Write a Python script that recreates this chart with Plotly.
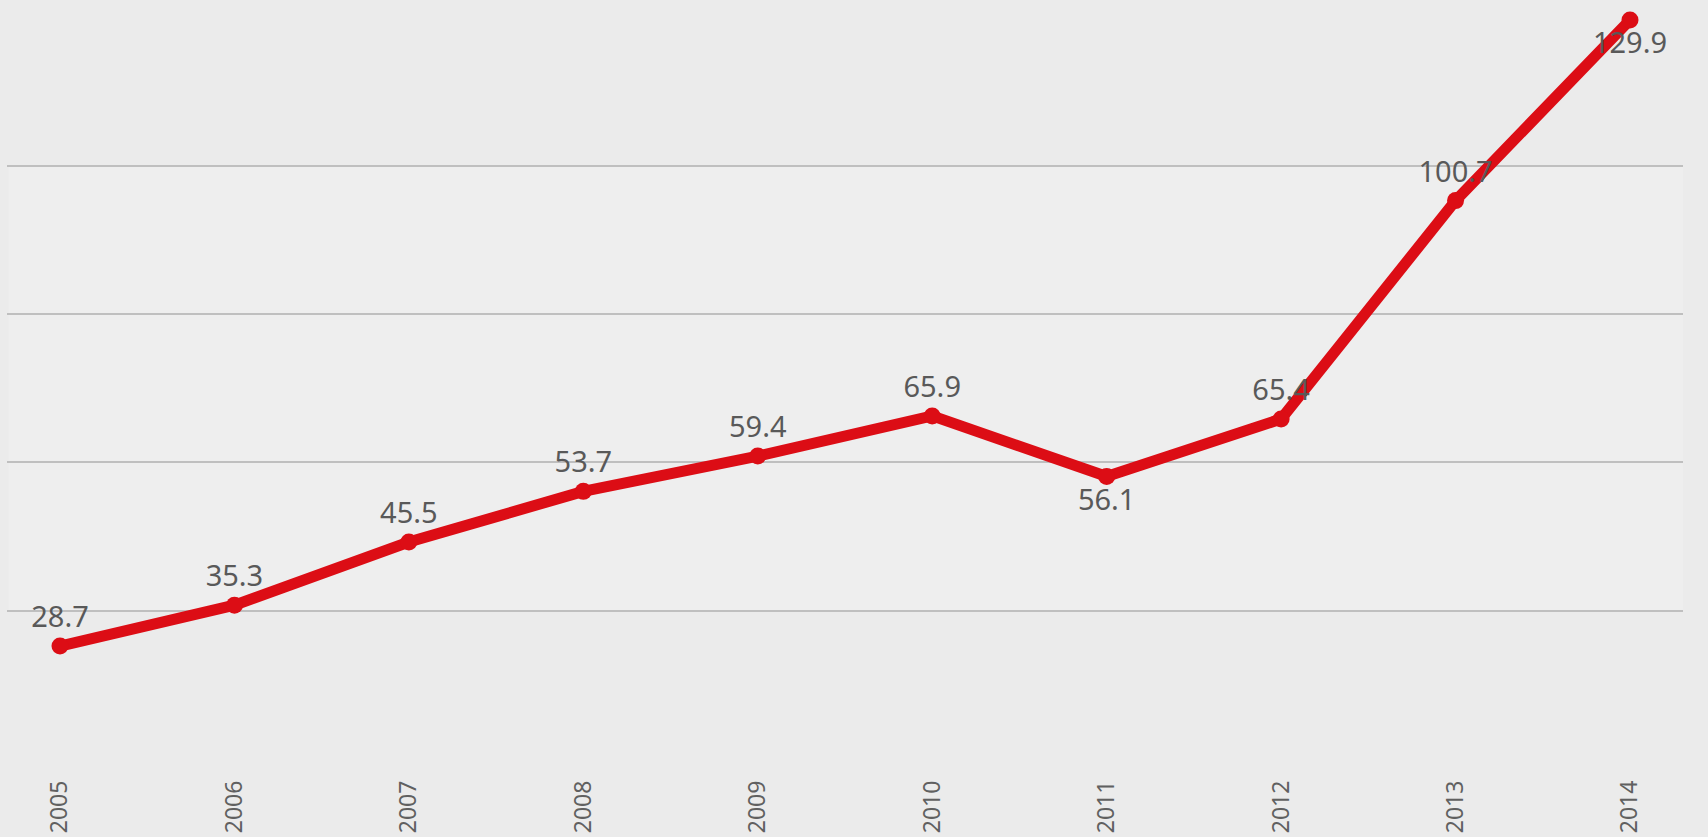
import plotly.graph_objects as go

years = ['2005', '2006', '2007', '2008', '2009', '2010', '2011', '2012', '2013', '2014']
values = [28.7, 35.3, 45.5, 53.7, 59.4, 65.9, 56.1, 65.4, 100.7, 129.9]
label_pos = ['top center'] * 6 + ['bottom center', 'top center', 'top center', 'bottom center']
grid_vals = [34.4, 58.4, 82.4, 106.3]

fig = go.Figure()
fig.add_trace(go.Scatter(
    x=years, y=values,
    mode='lines+markers+text',
    line=dict(color='#DC0D15', width=11),
    marker=dict(color='#DC0D15', size=17),
    text=[f'{v:.1f}' for v in values],
    textposition=label_pos,
    textfont=dict(family='Noto Sans', size=29, color='#595959'),
    cliponaxis=False,
    showlegend=False,
))

# slightly lighter band between the outer gridlines
fig.add_shape(type='rect', xref='paper', yref='y', x0=0.001, x1=1,
              y0=grid_vals[0], y1=grid_vals[-1],
              fillcolor='#EEEEEE', line_width=0, layer='below')

fig.update_layout(
    width=1708, height=837,
    margin=dict(l=7, r=25, t=0, b=62, autoexpand=False),
    paper_bgcolor='#EBEBEB', plot_bgcolor='#EBEBEB',
)
fig.update_xaxes(
    type='category', range=[-0.3038, 9.3038],
    showgrid=False, zeroline=False, showline=False,
    tickangle=-90, ticks='', automargin=False,
    tickfont=dict(family='Noto Sans', size=23, color='#606060'),
)
fig.update_yaxes(
    range=[7.85, 133.13], tickmode='array', tickvals=grid_vals,
    showticklabels=False, gridcolor='#BFBFBF', gridwidth=2,
    zeroline=False, showline=False, automargin=False,
)

fig.write_html('out.html', config={'displayModeBar': False},
               post_script="document.body.style.margin='0';document.body.style.overflow='hidden';")
